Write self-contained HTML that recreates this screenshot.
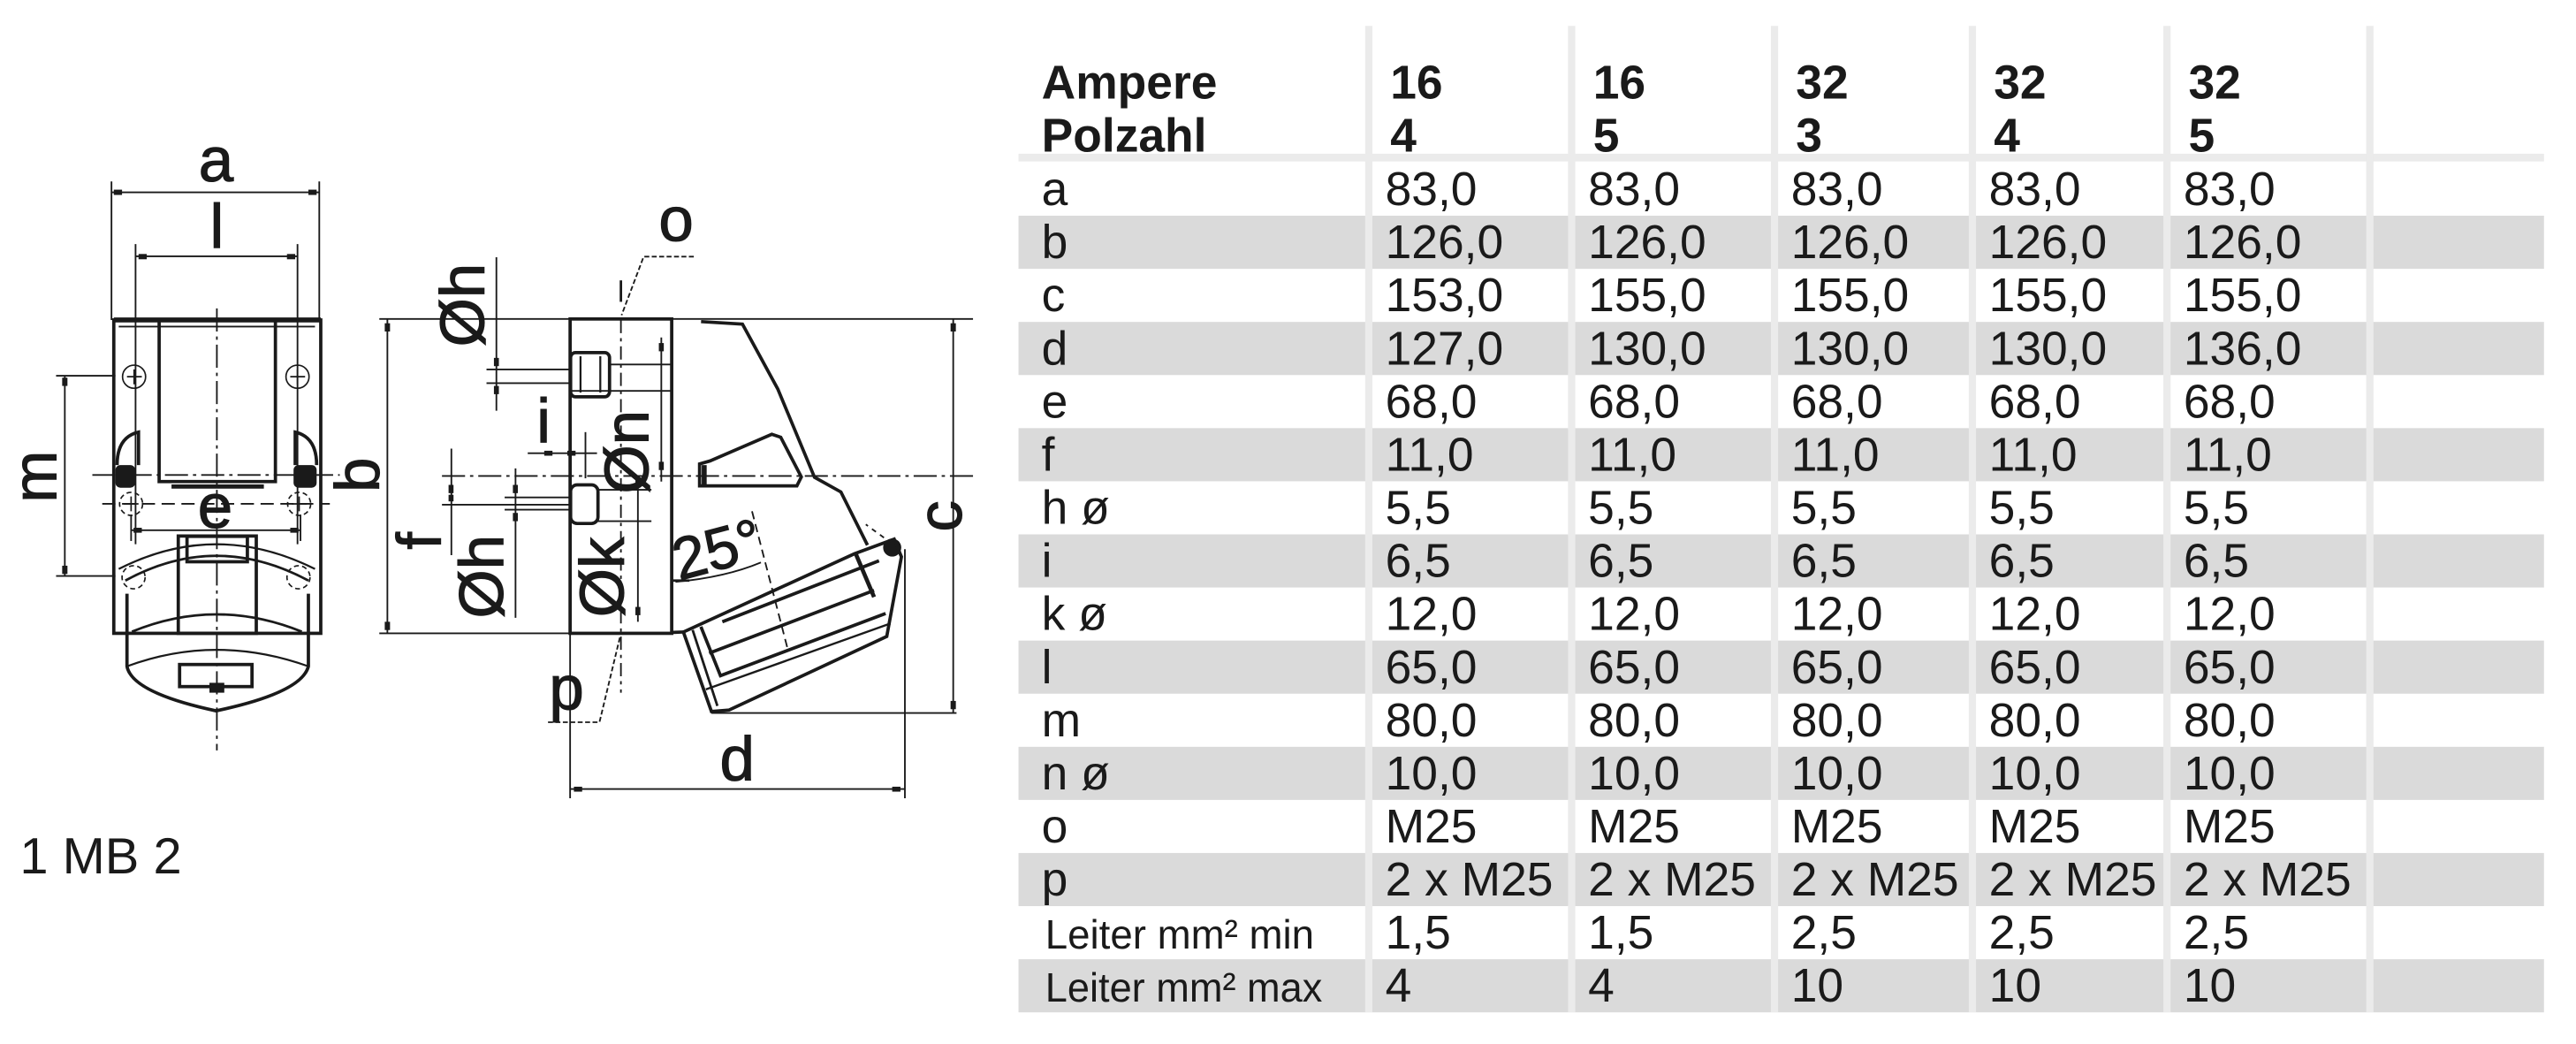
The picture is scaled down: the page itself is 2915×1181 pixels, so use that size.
<!DOCTYPE html>
<html><head><meta charset="utf-8"><style>
html,body{margin:0;padding:0;background:#fff;width:2915px;height:1181px;overflow:hidden}
svg{display:block}
text{font-family:"Liberation Sans",sans-serif;fill:#1a1a1a}
</style></head><body>
<svg width="2915" height="1181" viewBox="0 0 1562 633" preserveAspectRatio="none" xmlns="http://www.w3.org/2000/svg">
<!-- TABLE -->
<g transform="translate(4,0)">
<rect x="613.6" y="93.2" width="925" height="4.7" fill="#ebebeb"/>
<g fill="#dadada">
<rect x="613.6" y="130.8" width="925" height="32.2"/>
<rect x="613.6" y="195.2" width="925" height="32.2"/>
<rect x="613.6" y="259.6" width="925" height="32.2"/>
<rect x="613.6" y="324" width="925" height="32.2"/>
<rect x="613.6" y="388.4" width="925" height="32.2"/>
<rect x="613.6" y="452.8" width="925" height="32.2"/>
<rect x="613.6" y="517.2" width="925" height="32.2"/>
<rect x="613.6" y="581.6" width="925" height="32.2"/>
</g>
<g fill="#ebebeb">
<rect x="823.8" y="15.7" width="4.4" height="598"/>
<rect x="946.8" y="15.7" width="4.4" height="598"/>
<rect x="1069.8" y="15.7" width="4.4" height="598"/>
<rect x="1189.8" y="15.7" width="4.4" height="598"/>
<rect x="1307.8" y="15.7" width="4.4" height="598"/>
<rect x="1430.8" y="15.7" width="4.4" height="598"/>
</g>
<g font-size="28.6" font-weight="bold">
<text x="627.6" y="59.8">Ampere</text><text x="627.6" y="92">Polzahl</text>
<text x="839" y="59.8">16</text><text x="839" y="92">4</text>
<text x="962" y="59.8">16</text><text x="962" y="92">5</text>
<text x="1085" y="59.8">32</text><text x="1085" y="92">3</text>
<text x="1205" y="59.8">32</text><text x="1205" y="92">4</text>
<text x="1323" y="59.8">32</text><text x="1323" y="92">5</text>
</g>
<g font-size="28.6">
<text x="627.6" y="124.4">a</text>
<text x="627.6" y="156.6">b</text>
<text x="627.6" y="188.8">c</text>
<text x="627.6" y="221">d</text>
<text x="627.6" y="253.2">e</text>
<text x="627.6" y="285.4">f</text>
<text x="627.6" y="317.6">h ø</text>
<text x="627.6" y="349.8">i</text>
<text x="627.6" y="382">k ø</text>
<text x="627.6" y="414.2">l</text>
<text x="627.6" y="446.4">m</text>
<text x="627.6" y="478.6">n ø</text>
<text x="627.6" y="510.8">o</text>
<text x="627.6" y="543">p</text>
</g>
<text x="629.8" y="575.2" font-size="25" textLength="163" lengthAdjust="spacingAndGlyphs">Leiter mm² min</text>
<text x="629.8" y="607.4" font-size="25" textLength="168" lengthAdjust="spacingAndGlyphs">Leiter mm² max</text>
<g font-size="28.6">
<g transform="translate(836,0)">
<text y="124.4">83,0</text><text y="156.6">126,0</text><text y="188.8">153,0</text><text y="221">127,0</text><text y="253.2">68,0</text><text y="285.4">11,0</text><text y="317.6">5,5</text><text y="349.8">6,5</text><text y="382">12,0</text><text y="414.2">65,0</text><text y="446.4">80,0</text><text y="478.6">10,0</text><text y="510.8">M25</text><text y="543">2 x M25</text><text y="575.2">1,5</text><text y="607.4">4</text>
</g>
<g transform="translate(959,0)">
<text y="124.4">83,0</text><text y="156.6">126,0</text><text y="188.8">155,0</text><text y="221">130,0</text><text y="253.2">68,0</text><text y="285.4">11,0</text><text y="317.6">5,5</text><text y="349.8">6,5</text><text y="382">12,0</text><text y="414.2">65,0</text><text y="446.4">80,0</text><text y="478.6">10,0</text><text y="510.8">M25</text><text y="543">2 x M25</text><text y="575.2">1,5</text><text y="607.4">4</text>
</g>
<g transform="translate(1082,0)">
<text y="124.4">83,0</text><text y="156.6">126,0</text><text y="188.8">155,0</text><text y="221">130,0</text><text y="253.2">68,0</text><text y="285.4">11,0</text><text y="317.6">5,5</text><text y="349.8">6,5</text><text y="382">12,0</text><text y="414.2">65,0</text><text y="446.4">80,0</text><text y="478.6">10,0</text><text y="510.8">M25</text><text y="543">2 x M25</text><text y="575.2">2,5</text><text y="607.4">10</text>
</g>
<g transform="translate(1202,0)">
<text y="124.4">83,0</text><text y="156.6">126,0</text><text y="188.8">155,0</text><text y="221">130,0</text><text y="253.2">68,0</text><text y="285.4">11,0</text><text y="317.6">5,5</text><text y="349.8">6,5</text><text y="382">12,0</text><text y="414.2">65,0</text><text y="446.4">80,0</text><text y="478.6">10,0</text><text y="510.8">M25</text><text y="543">2 x M25</text><text y="575.2">2,5</text><text y="607.4">10</text>
</g>
<g transform="translate(1320,0)">
<text y="124.4">83,0</text><text y="156.6">126,0</text><text y="188.8">155,0</text><text y="221">136,0</text><text y="253.2">68,0</text><text y="285.4">11,0</text><text y="317.6">5,5</text><text y="349.8">6,5</text><text y="382">12,0</text><text y="414.2">65,0</text><text y="446.4">80,0</text><text y="478.6">10,0</text><text y="510.8">M25</text><text y="543">2 x M25</text><text y="575.2">2,5</text><text y="607.4">10</text>
</g>
</g>
</g>

<text x="12" y="529.5" font-size="31">1 MB 2</text>

<!-- FRONT VIEW -->
<g stroke="#1a1a1a" fill="none" stroke-width="1">
<line x1="67.6" y1="110" x2="67.6" y2="194"/><line x1="193.6" y1="110" x2="193.6" y2="194"/>
<line x1="67.6" y1="116.6" x2="193.6" y2="116.6"/>
<line x1="82.2" y1="148" x2="82.2" y2="330"/><line x1="180.4" y1="148" x2="180.4" y2="330"/>
<line x1="82.2" y1="155.4" x2="180.4" y2="155.4"/>
<line x1="39.3" y1="227.8" x2="39.3" y2="349.2"/>
<line x1="34" y1="227.8" x2="70" y2="227.8"/><line x1="34" y1="349.2" x2="70" y2="349.2"/>
<line x1="79.5" y1="321.5" x2="182.2" y2="321.5"/>
<line x1="79.5" y1="312" x2="79.5" y2="328"/><line x1="182.2" y1="312" x2="182.2" y2="328"/>
<line x1="131.5" y1="187" x2="131.5" y2="455" stroke-dasharray="14,3,2,3"/>
<line x1="56" y1="288" x2="206" y2="288" stroke-dasharray="14,3,2,3"/>
<line x1="62" y1="305.5" x2="200" y2="305.5" stroke-dasharray="8,4"/>
</g>
<g fill="#1a1a1a">
<rect x="69" y="115" width="5" height="3.2"/><rect x="187" y="115" width="5" height="3.2"/>
<rect x="84" y="154" width="5" height="3.2"/><rect x="174" y="154" width="5" height="3.2"/>
<rect x="37.7" y="229" width="3.2" height="5"/><rect x="37.7" y="343" width="3.2" height="5"/>
<rect x="81" y="320" width="5" height="3"/><rect x="176" y="320" width="5" height="3"/>
</g>
<g stroke="#1a1a1a" fill="none" stroke-width="2">
<rect x="69" y="194" width="125.5" height="190"/>
<line x1="69" y1="194" x2="194.5" y2="194" stroke-width="3"/>
<path d="M96.5 195 V292 H167 V195"/>
<path d="M104 295 H160" stroke-width="2.5"/>
<line x1="72" y1="198" x2="191" y2="198" stroke-width="1"/>
<path d="M71 282 Q71 265 84 262 V282"/>
<path d="M192 282 Q192 265 179 262 V282"/>
<path d="M72 345 Q131 315 191 345" stroke-width="1.2"/>
<path d="M76 352 Q131 322 187 352" stroke-width="1.5"/>
<path d="M77 360 V404 Q80 420 131 431 Q183 420 187 404 V360"/>
<path d="M80 383 Q131 362 183 383" stroke-width="1.5"/>
<path d="M77 404 Q131 384 187 404" stroke-width="1.2"/>
<rect x="108.1" y="325" width="47.3" height="59"/>
<rect x="113.4" y="325.2" width="36.6" height="15.4"/>
<rect x="108.9" y="402.9" width="43.9" height="13.4"/>
</g>
<g stroke="#1a1a1a" fill="none" stroke-width="0.9">
<circle cx="81.3" cy="228.4" r="7"/><circle cx="180.4" cy="228.4" r="7"/>
<circle cx="79.5" cy="305.5" r="7" stroke-dasharray="3,2"/><circle cx="181.4" cy="305.5" r="7" stroke-dasharray="3,2"/>
<circle cx="81" cy="350" r="7" stroke-dasharray="3,2"/><circle cx="181" cy="350" r="7" stroke-dasharray="3,2"/>
<path d="M77 228.4h9M81.3 224v9M176 228.4h9M180.4 224v9M75 305.5h9M79.5 301v9M177 305.5h9M181.4 301v9"/>
</g>
<g fill="#1a1a1a">
<rect x="70" y="282" width="12" height="13.7" rx="3"/>
<rect x="178" y="282" width="14" height="13.7" rx="3"/>
<rect x="127" y="414" width="9" height="6"/>
</g>
<g font-size="38" stroke="#1a1a1a" stroke-width="0.6">
<text x="131" y="109.8" text-anchor="middle">a</text>
<text x="131.5" y="150" text-anchor="middle">l</text>
<text x="130.5" y="320" text-anchor="middle">e</text>
<text transform="translate(34,289) rotate(-90)" text-anchor="middle">m</text>
<text transform="translate(229.5,288) rotate(-90)" text-anchor="middle">b</text>
</g>

<!-- SIDE VIEW -->
<g stroke="#1a1a1a" fill="none" stroke-width="1">
<line x1="230" y1="193.4" x2="590" y2="193.4"/>
<line x1="230" y1="384" x2="346" y2="384"/>
<line x1="234.9" y1="193.4" x2="234.9" y2="384"/>
<line x1="578" y1="193.4" x2="578" y2="432.3"/>
<line x1="431.4" y1="432.3" x2="580" y2="432.3"/>
<line x1="345.7" y1="384" x2="345.7" y2="484"/>
<line x1="548.7" y1="333" x2="548.7" y2="484"/>
<line x1="345.7" y1="478.4" x2="548.7" y2="478.4"/>
<polyline points="420.7,155.6 390.3,155.6 376.9,191.1" stroke-dasharray="3,1.5"/>
<line x1="376.5" y1="183" x2="376.5" y2="170" stroke-width="1.5"/>
<polyline points="332.3,437.9 363.5,437.9 376,386" stroke-dasharray="3,1.5"/>
<line x1="376.5" y1="194" x2="376.5" y2="420" stroke-dasharray="8,3,2,3"/>
<line x1="301" y1="156" x2="301" y2="249"/>
<line x1="295" y1="224" x2="346" y2="224"/><line x1="295" y1="232.3" x2="346" y2="232.3"/>
<line x1="369" y1="221" x2="407" y2="221"/><line x1="346" y1="237" x2="407" y2="237"/>
<line x1="401" y1="204.6" x2="401" y2="292"/>
<line x1="320" y1="274.8" x2="362" y2="274.8"/>
<line x1="355" y1="262" x2="355" y2="290"/>
<line x1="268" y1="288.6" x2="590" y2="288.6" stroke-dasharray="14,3,2,3"/>
<line x1="268" y1="306" x2="346" y2="306"/>
<line x1="306" y1="301.6" x2="346" y2="301.6"/><line x1="306" y1="309" x2="346" y2="309"/>
<line x1="362" y1="297" x2="395" y2="297"/><line x1="362" y1="316" x2="395" y2="316"/>
<line x1="273.7" y1="272" x2="273.7" y2="336.6"/>
<line x1="312.6" y1="284" x2="312.6" y2="374.6"/>
<line x1="386.8" y1="288.6" x2="386.8" y2="377"/>
<path d="M409.6 352.8 Q440 350 461.4 341"/>
<line x1="456" y1="310" x2="478" y2="395" stroke-dasharray="5,3"/>
<line x1="536" y1="326" x2="525" y2="318" stroke-dasharray="3,3"/>
</g>
<g fill="#1a1a1a">
<rect x="233.3" y="196" width="3.2" height="5"/><rect x="233.3" y="377" width="3.2" height="5"/>
<rect x="576.4" y="196" width="3.2" height="5"/><rect x="576.4" y="425" width="3.2" height="5"/>
<rect x="348" y="477" width="5" height="3"/><rect x="541" y="477" width="5" height="3"/>
<rect x="399.5" y="208" width="3" height="5"/><rect x="399.5" y="280" width="3" height="5"/>
<rect x="299.5" y="217" width="3" height="5"/><rect x="299.5" y="234" width="3" height="5"/>
<rect x="311" y="294" width="3" height="5"/><rect x="311" y="311" width="3" height="5"/>
<rect x="272" y="294" width="3" height="5"/><rect x="272" y="300" width="3" height="4"/>
<rect x="330" y="273.3" width="5" height="3"/><rect x="344" y="273.3" width="5" height="3"/>
<rect x="385.3" y="290" width="3" height="5"/><rect x="385.3" y="368" width="3" height="5"/>
<circle cx="541" cy="332" r="5.5"/>
</g>
<g stroke="#1a1a1a" fill="none" stroke-width="2">
<rect x="345.7" y="193.4" width="61.6" height="190.6"/>
<rect x="346" y="213.8" width="23.6" height="26.8" rx="3"/>
<line x1="352" y1="216" x2="352" y2="238" stroke-width="1.2"/>
<line x1="364" y1="216" x2="364" y2="238" stroke-width="1.2"/>
<rect x="346" y="294" width="16.6" height="23.4" rx="4"/>
<polyline points="425.1,195 450.2,196.5 471.6,235.8 493.9,289.4 509.9,298.3 526,330.5"/>
<polygon points="424.2,281.3 430.5,279.5 468,263.3 473.4,265.1 485.9,289.2 483.2,294.6 424.2,294.6"/>
<line x1="427" y1="282" x2="427" y2="294" stroke-width="3"/>
<polygon points="414.4,383.2 431.4,431.4 442.1,430.5 537.7,385.9 546.6,337.6 542.2,326.9 518,335.8"/>
<line x1="407.3" y1="383.5" x2="414.4" y2="383.2"/>
<line x1="420" y1="382" x2="435" y2="428" stroke-width="1.5"/>
<line x1="425" y1="380" x2="437" y2="410"/>
<line x1="438" y1="377" x2="533" y2="340"/>
<line x1="430" y1="396" x2="530" y2="358"/>
<line x1="436" y1="410" x2="537" y2="372"/>
<line x1="428" y1="418" x2="540" y2="378" stroke-width="1.3"/>
<line x1="519" y1="336" x2="530" y2="362" stroke-width="2.5"/>
<line x1="407.3" y1="352" x2="418" y2="352" stroke-width="1.5"/>
</g>
<g font-size="38" stroke="#1a1a1a" stroke-width="0.6">
<text x="410" y="146" text-anchor="middle">o</text>
<text x="343.5" y="430" text-anchor="middle">p</text>
<text x="447" y="473" text-anchor="middle">d</text>
<text x="329.6" y="268" text-anchor="middle">i</text>
<text transform="translate(293.5,185) rotate(-90)" text-anchor="middle">Øh</text>
<text transform="translate(305,349.6) rotate(-90)" text-anchor="middle">Øh</text>
<text transform="translate(393,274) rotate(-90)" text-anchor="middle">Øn</text>
<text transform="translate(378,350) rotate(-90)" text-anchor="middle">Øk</text>
<text transform="translate(267,328) rotate(-90)" text-anchor="middle">f</text>
<text transform="translate(583,313) rotate(-90)" text-anchor="middle">c</text>
<text transform="translate(438,345) rotate(-15)" text-anchor="middle" font-size="36">25°</text>
</g>
</svg>
</body></html>
